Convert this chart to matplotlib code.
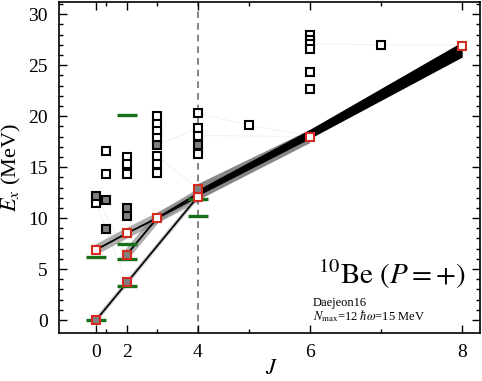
import matplotlib
matplotlib.use('Agg')
import matplotlib.pyplot as plt
import numpy as np

plt.rcParams['font.family'] = 'Liberation Serif'
plt.rcParams['mathtext.fontset'] = 'stix'

# calculated levels, black edge, white fill
open_J = [0, 1, 1, 2, 2, 2, 3, 3, 3, 3, 3, 3, 3, 4, 4, 4, 4, 5, 6, 6, 6, 6, 6, 6, 7]
open_E = [11.5, 16.6, 14.3, 16.0, 15.3, 14.3, 20.0, 19.2, 18.5, 17.9, 16.1, 15.3, 14.4,
          20.3, 18.8, 18.1, 16.3, 19.1, 28.0, 27.5, 27.1, 26.6, 24.3, 22.7, 27.0]
# calculated levels, black edge, gray fill
gray_J = [0, 1, 1, 2, 2, 3, 4]
gray_E = [12.2, 11.8, 8.9, 11.0, 10.2, 17.2, 17.2]
# band members (red edge)
band_open_J = [0, 2, 3, 4, 6, 8]
band_open_E = [6.9, 8.5, 10.0, 12.1, 18.0, 26.9]
band_gray_J = [0, 2, 2, 4]
band_gray_E = [0.0, 3.7, 6.4, 12.9]
# experiment
exp_J = [0, 0, 2, 2, 2, 2, 4, 4]
exp_E = [0.0, 6.2, 3.35, 6.0, 7.5, 20.1, 11.9, 10.2]

# yrast band spread
yrast_J = [4, 6, 8]
yrast_lo = [12.2, 17.8, 25.8]
yrast_hi = [12.8, 18.7, 27.3]
halo_J = [4, 6]
halo_lo = [11.8, 17.4]
halo_hi = [13.4, 18.7]

# rotational band lines
gs_J, gs_E = [0, 2, 4], [0.0, 3.63, 12.1]
k2_J, k2_E = [0, 2, 3, 4], [6.9, 8.5, 10.0, 12.1]
side_J, side_E = [2, 3, 4], [6.4, 10.0, 12.4]

# faint transition lines
faint = [([4, 5], [20.3, 19.1]), ([4, 6], [18.1, 18.0]), ([5, 6], [19.1, 18.1]),
         ([6, 7, 8], [27.1, 27.0, 27.0]), ([3, 4], [16.1, 12.9]), ([0, 2], [11.5, 3.7]),
         ([0, 2], [12.2, 6.4]), ([3, 4], [17.2, 18.8])]


def jj(j):
    j = np.asarray(j, dtype=float)
    return j * (j + 1)


fig = plt.figure(figsize=(4.82, 3.81), dpi=100)
ax = fig.add_axes([0.1224, 0.126, 0.8734, 0.8688])

red = '#d42a20'
grayfill = '#808080'
green = '#16701a'

ax.axvline(20, color='#6e6e6e', ls=(0, (4, 3)), lw=1.2, zorder=0)

for fj, fe in faint:
    ax.plot(jj(fj), fe, color='#b0b0b0', lw=0.7, alpha=0.18, zorder=1)

ax.fill_between(jj(halo_J), halo_lo, halo_hi, color='#555555', alpha=0.7, lw=0, zorder=2)
ax.fill_between(jj(yrast_J), yrast_lo, yrast_hi, color='black', lw=0, zorder=3)

ax.plot(jj(k2_J), k2_E, color='#7a7a7a', lw=7, alpha=0.6, solid_capstyle='round', zorder=2)
ax.plot(jj(side_J), side_E, color='#7a7a7a', lw=6, alpha=0.6, solid_capstyle='round', zorder=2)
ax.plot(jj(k2_J), k2_E, color='black', lw=1.3, zorder=3)
ax.plot(jj(side_J), side_E, color='black', lw=1.3, zorder=3)
ax.plot(jj(gs_J), gs_E, color='#999999', lw=3, alpha=0.5, zorder=2)
ax.plot(jj(gs_J), gs_E, color='black', lw=1.2, zorder=3)

ax.plot(jj(exp_J), exp_E, ls='none', marker='_', ms=14, mew=2.4, color=green, zorder=4)

sq = dict(ls='none', marker='s', ms=5.8, mew=1.5, zorder=5)
ax.plot(jj(open_J), open_E, mfc='white', mec='black', **sq)
ax.plot(jj(gray_J), gray_E, mfc=grayfill, mec='black', **sq)
ax.plot(jj(band_open_J), band_open_E, mfc='white', mec=red, **sq)
ax.plot(jj(band_gray_J), band_gray_E, mfc=grayfill, mec=red, **sq)

ax.set_xlim(-7.3, 75.5)
ax.set_ylim(-1.27, 31.2)
ax.set_xticks(jj([0, 2, 4, 6, 8]))
ax.set_xticklabels(['0', '2', '4', '6', '8'])
ax.set_xticks(jj(range(9)), minor=True)
ax.set_yticks(range(0, 31, 5))
ax.set_yticks(range(0, 32), minor=True)
ax.tick_params(which='both', direction='in', top=True, right=True, labelsize=14, width=1)
ax.tick_params(which='major', length=6, pad=8)
ax.tick_params(which='minor', length=3)
for s in ax.spines.values():
    s.set_linewidth(1.2)

ax.set_ylabel(r'$E_x$ (MeV)', fontsize=16, labelpad=4)
ax.set_xlabel(r'$J$', fontsize=16)
ax.xaxis.set_label_coords(0.505, -0.082)

ax.text(0.965, 0.148, r'$^{10}\mathrm{Be}\ (P=+)$', transform=ax.transAxes, ha='right',
        va='baseline', fontsize=21)
ax.text(0.603, 0.083, 'Daejeon16', transform=ax.transAxes, ha='left', va='baseline', fontsize=9)
ax.text(0.603, 0.040, r'$N_{\rm max}$=12 $\hbar\omega$=15 MeV', transform=ax.transAxes,
        ha='left', va='baseline', fontsize=9)

fig.savefig('out.png', dpi=100)
